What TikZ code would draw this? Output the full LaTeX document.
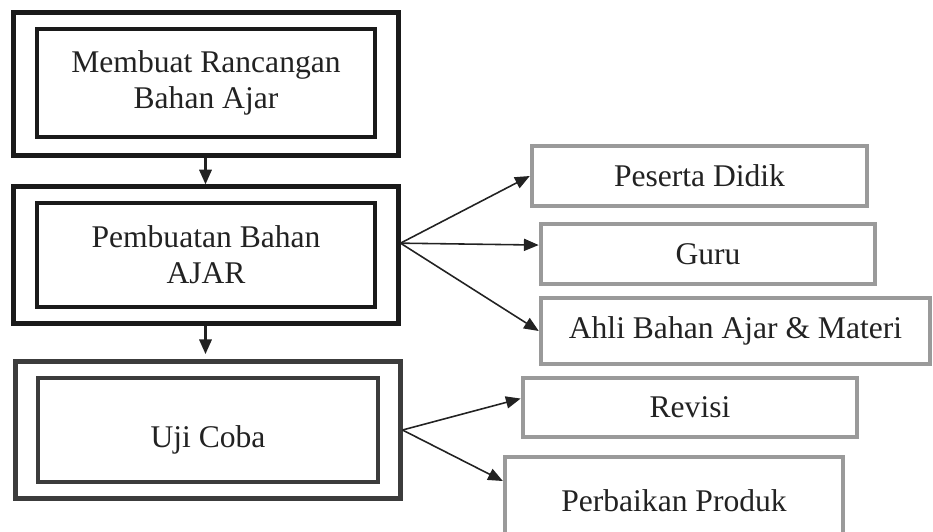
\documentclass[tikz,border=0pt]{standalone}
\usepackage{fontspec}
\setmainfont{Liberation Serif}
\usepackage{tikz}
\usetikzlibrary{arrows.meta}

\definecolor{boxdark}{HTML}{1A1A1A}
\definecolor{boxgrey}{HTML}{9A9A9A}
\definecolor{inkdark}{HTML}{222222}

\begin{document}
\begin{tikzpicture}[x=0.38pt,y=-0.38pt,
	font=\fontsize{12}{13.8}\selectfont, text=inkdark,
	outerbox/.style={draw=boxdark,line width=1.9pt,inner sep=0pt},
	innerbox/.style={draw=boxdark,line width=1.6pt,align=center,inner sep=0pt},
	sidebox/.style={draw=boxgrey,line width=1.7pt,inner sep=0pt},
	flow/.style={draw=inkdark,line width=0.6pt,-{Triangle[length=5.6pt,width=4.6pt]}}]
			
			\useasboundingbox (0,0) rectangle (933,531);
			
			\node[outerbox,minimum width=146.3pt,minimum height=54pt] (O1) at (205.5,84) {};
			\node[innerbox,minimum width=128.4pt,minimum height=41pt] (I1) at (206,83) {Membuat Rancangan\\Bahan Ajar};
			
			\node[outerbox,minimum width=146.3pt,minimum height=51.7pt] (O2) at (205.5,255) {};
			\node[innerbox,minimum width=128.4pt,minimum height=39.5pt] (I2) at (206,255) {Pembuatan Bahan\\AJAR};
			
			\node[outerbox,draw=boxdark!85,minimum width=146.3pt,minimum height=51.7pt] (O3) at (207.5,430) {};
			\node[innerbox,draw=boxdark!85,minimum width=129.2pt,minimum height=39.5pt,text height=16pt] (I3) at (208,430) {Uji Coba};
			
			\draw[flow,line width=1.1pt] (O1.south) -- (O2.north);
			\draw[flow,line width=1.1pt,shorten >=2pt] (O2.south) -- (O2.south |- O3.north);
			
			\node[sidebox,minimum width=127.3pt,minimum height=22.8pt] (P) at (699.5,176) {Peserta Didik};
			\node[sidebox,minimum width=127pt,minimum height=22.8pt] (G) at (708,254) {Guru};
			\node[sidebox,minimum width=147.8pt,minimum height=25.1pt] (A) at (735.5,331) {Ahli Bahan Ajar \& Materi};
			
			\draw[flow] ([yshift=4.5pt]O2.east) -- (P.west);
			\draw[flow] ([yshift=4.5pt]O2.east) -- ([yshift=3.4pt]G.west);
			\draw[flow] ([yshift=4.5pt]O2.east) -- (A.west);
			
			\node[sidebox,minimum width=127pt,minimum height=22.4pt] (R) at (690,407.5) {Revisi};
			\node[sidebox,minimum width=128.4pt,minimum height=33.4pt] (PP) at (674,501) {Perbaikan Produk};
			
			\draw[flow] (O3.east) -- ([yshift=3.4pt]R.west);
			\draw[flow] (O3.east) -- ([yshift=7.6pt]PP.west);
			
		\end{tikzpicture}
\end{document}
